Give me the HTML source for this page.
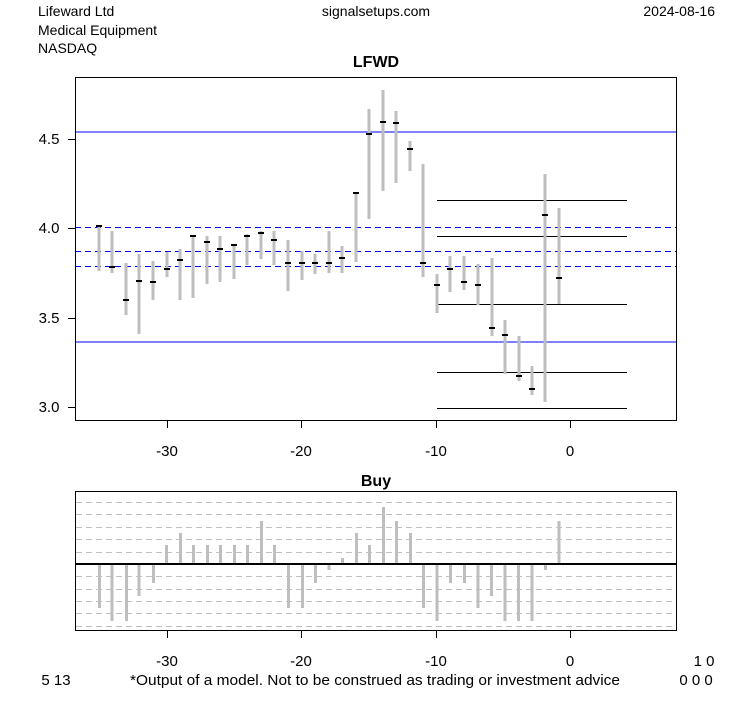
<!DOCTYPE html>
<html><head><meta charset="utf-8"><style>
html,body{margin:0;padding:0;background:#fff}
svg{display:block;font-family:"Liberation Sans",Arial,sans-serif}
</style></head><body>
<svg width="753" height="708" viewBox="0 0 753 708" xmlns="http://www.w3.org/2000/svg" shape-rendering="crispEdges">
<rect width="753" height="708" fill="#fff"/>
<g font-size="14" fill="#000">
<text x="38" y="16">Lifeward Ltd</text>
<text x="38" y="35">Medical Equipment</text>
<text x="38" y="53">NASDAQ</text>
<text x="376" y="16" text-anchor="middle">signalsetups.com</text>
<text x="715" y="16" text-anchor="end">2024-08-16</text>
<text x="376" y="67" text-anchor="middle" font-weight="bold" font-size="16">LFWD</text>
<text x="376" y="486" text-anchor="middle" font-weight="bold" font-size="16">Buy</text>
</g>
<g stroke="#0000ff" stroke-width="1">
<line x1="75" y1="132" x2="677" y2="132"/>
<line x1="75" y1="342" x2="677" y2="342"/>
<line x1="75" y1="227.5" x2="677" y2="227.5" stroke-dasharray="6,4"/>
<line x1="75" y1="251.5" x2="677" y2="251.5" stroke-dasharray="6,4"/>
<line x1="75" y1="266.5" x2="677" y2="266.5" stroke-dasharray="6,4"/>
</g>
<g stroke="#000" stroke-width="1">
<line x1="437" y1="200.5" x2="627" y2="200.5"/>
<line x1="437" y1="236.5" x2="627" y2="236.5"/>
<line x1="437" y1="304.5" x2="627" y2="304.5"/>
<line x1="437" y1="372.5" x2="627" y2="372.5"/>
<line x1="437" y1="408.5" x2="627" y2="408.5"/>
</g>
<g stroke="#bebebe" stroke-width="3">
<line x1="99" y1="225" x2="99" y2="271"/>
<line x1="112" y1="231" x2="112" y2="273"/>
<line x1="126" y1="263" x2="126" y2="315"/>
<line x1="139" y1="254" x2="139" y2="334"/>
<line x1="153" y1="261" x2="153" y2="300"/>
<line x1="167" y1="252" x2="167" y2="277"/>
<line x1="180" y1="249" x2="180" y2="300"/>
<line x1="193" y1="235" x2="193" y2="298"/>
<line x1="207" y1="236" x2="207" y2="284"/>
<line x1="220" y1="236" x2="220" y2="282"/>
<line x1="234" y1="244" x2="234" y2="279"/>
<line x1="247" y1="234" x2="247" y2="265"/>
<line x1="261" y1="231" x2="261" y2="259"/>
<line x1="274" y1="231" x2="274" y2="265"/>
<line x1="288" y1="240" x2="288" y2="291"/>
<line x1="302" y1="251" x2="302" y2="280"/>
<line x1="315" y1="254" x2="315" y2="274"/>
<line x1="329" y1="231" x2="329" y2="273"/>
<line x1="342" y1="246" x2="342" y2="273"/>
<line x1="356" y1="192" x2="356" y2="262"/>
<line x1="369" y1="109" x2="369" y2="219"/>
<line x1="383" y1="90" x2="383" y2="191"/>
<line x1="396" y1="111" x2="396" y2="183"/>
<line x1="410" y1="141" x2="410" y2="171"/>
<line x1="423" y1="164" x2="423" y2="277"/>
<line x1="437" y1="274" x2="437" y2="313"/>
<line x1="450" y1="256" x2="450" y2="292"/>
<line x1="464" y1="256" x2="464" y2="290"/>
<line x1="478" y1="264" x2="478" y2="305"/>
<line x1="492" y1="258" x2="492" y2="336"/>
<line x1="505" y1="320" x2="505" y2="374"/>
<line x1="519" y1="336" x2="519" y2="381"/>
<line x1="532" y1="366" x2="532" y2="395"/>
<line x1="545" y1="174" x2="545" y2="402"/>
<line x1="559" y1="208" x2="559" y2="304"/>
</g>
<g fill="#000">
<rect x="96" y="225" width="6" height="2"/>
<rect x="109" y="266" width="6" height="2"/>
<rect x="123" y="299" width="6" height="2"/>
<rect x="136" y="280" width="6" height="2"/>
<rect x="150" y="281" width="6" height="2"/>
<rect x="164" y="268" width="6" height="2"/>
<rect x="177" y="259" width="6" height="2"/>
<rect x="190" y="235" width="6" height="2"/>
<rect x="204" y="241" width="6" height="2"/>
<rect x="217" y="248" width="6" height="2"/>
<rect x="231" y="244" width="6" height="2"/>
<rect x="244" y="235" width="6" height="2"/>
<rect x="258" y="232" width="6" height="2"/>
<rect x="271" y="239" width="6" height="2"/>
<rect x="285" y="262" width="6" height="2"/>
<rect x="299" y="262" width="6" height="2"/>
<rect x="312" y="262" width="6" height="2"/>
<rect x="326" y="262" width="6" height="2"/>
<rect x="339" y="257" width="6" height="2"/>
<rect x="353" y="192" width="6" height="2"/>
<rect x="366" y="133" width="6" height="2"/>
<rect x="380" y="121" width="6" height="2"/>
<rect x="393" y="122" width="6" height="2"/>
<rect x="407" y="148" width="6" height="2"/>
<rect x="420" y="262" width="6" height="2"/>
<rect x="434" y="284" width="6" height="2"/>
<rect x="447" y="268" width="6" height="2"/>
<rect x="461" y="281" width="6" height="2"/>
<rect x="475" y="284" width="6" height="2"/>
<rect x="489" y="327" width="6" height="2"/>
<rect x="502" y="334" width="6" height="2"/>
<rect x="516" y="375" width="6" height="2"/>
<rect x="529" y="388" width="6" height="2"/>
<rect x="542" y="214" width="6" height="2"/>
<rect x="556" y="277" width="6" height="2"/>
</g>
<rect x="75.5" y="77.5" width="601" height="343" fill="none" stroke="#000"/>
<g stroke="#000">
<line x1="167.5" y1="421" x2="167.5" y2="428"/><line x1="301.5" y1="421" x2="301.5" y2="428"/>
<line x1="436.5" y1="421" x2="436.5" y2="428"/><line x1="570.5" y1="421" x2="570.5" y2="428"/>
<line x1="68" y1="139.5" x2="75" y2="139.5"/><line x1="68" y1="228.5" x2="75" y2="228.5"/>
<line x1="68" y1="318.5" x2="75" y2="318.5"/><line x1="68" y1="407.5" x2="75" y2="407.5"/>
</g>
<g font-size="15" text-anchor="middle">
<text x="167" y="456">-30</text><text x="301" y="456">-20</text><text x="436" y="456">-10</text><text x="570" y="456">0</text>
<text x="49" y="144">4.5</text><text x="49" y="233">4.0</text><text x="49" y="323">3.5</text><text x="49" y="412">3.0</text>
</g>
<g stroke="#c0c0c0" stroke-dasharray="6,4">
<line x1="76" y1="502.5" x2="676" y2="502.5"/><line x1="76" y1="514.5" x2="676" y2="514.5"/>
<line x1="76" y1="527.5" x2="676" y2="527.5"/><line x1="76" y1="539.5" x2="676" y2="539.5"/>
<line x1="76" y1="552.5" x2="676" y2="552.5"/><line x1="76" y1="576.5" x2="676" y2="576.5"/>
<line x1="76" y1="589.5" x2="676" y2="589.5"/><line x1="76" y1="601.5" x2="676" y2="601.5"/>
<line x1="76" y1="613.5" x2="676" y2="613.5"/><line x1="76" y1="626.5" x2="676" y2="626.5"/>
</g>
<g stroke="#bebebe" stroke-width="3">
<line x1="99.6" y1="564" x2="99.6" y2="608"/>
<line x1="112.2" y1="564" x2="112.2" y2="621"/>
<line x1="126.5" y1="564" x2="126.5" y2="621"/>
<line x1="139.1" y1="564" x2="139.1" y2="596"/>
<line x1="153.7" y1="564" x2="153.7" y2="583"/>
<line x1="166.4" y1="564" x2="166.4" y2="545"/>
<line x1="180.6" y1="564" x2="180.6" y2="533"/>
<line x1="193.7" y1="564" x2="193.7" y2="545"/>
<line x1="207.5" y1="564" x2="207.5" y2="545"/>
<line x1="220.5" y1="564" x2="220.5" y2="545"/>
<line x1="234.7" y1="564" x2="234.7" y2="545"/>
<line x1="247.4" y1="564" x2="247.4" y2="545"/>
<line x1="261.6" y1="564" x2="261.6" y2="521"/>
<line x1="274.7" y1="564" x2="274.7" y2="545"/>
<line x1="288.5" y1="564" x2="288.5" y2="608"/>
<line x1="302.3" y1="564" x2="302.3" y2="608"/>
<line x1="315.4" y1="564" x2="315.4" y2="583"/>
<line x1="329.2" y1="564" x2="329.2" y2="570"/>
<line x1="342.6" y1="564" x2="342.6" y2="558"/>
<line x1="356.4" y1="564" x2="356.4" y2="533"/>
<line x1="369.5" y1="564" x2="369.5" y2="545"/>
<line x1="383.3" y1="564" x2="383.3" y2="507"/>
<line x1="396.4" y1="564" x2="396.4" y2="521"/>
<line x1="410.6" y1="564" x2="410.6" y2="533"/>
<line x1="423.7" y1="564" x2="423.7" y2="608"/>
<line x1="437.1" y1="564" x2="437.1" y2="621"/>
<line x1="450.5" y1="564" x2="450.5" y2="583"/>
<line x1="464.3" y1="564" x2="464.3" y2="583"/>
<line x1="478.1" y1="564" x2="478.1" y2="608"/>
<line x1="491.5" y1="564" x2="491.5" y2="596"/>
<line x1="505" y1="564" x2="505" y2="621"/>
<line x1="518.4" y1="564" x2="518.4" y2="621"/>
<line x1="532.2" y1="564" x2="532.2" y2="621"/>
<line x1="545.3" y1="564" x2="545.3" y2="570"/>
<line x1="559.1" y1="564" x2="559.1" y2="521"/>
</g>
<line x1="76" y1="564" x2="676" y2="564" stroke="#000" stroke-width="2"/>
<rect x="75.5" y="491.5" width="601" height="139" fill="none" stroke="#000"/>
<g stroke="#000">
<line x1="167.5" y1="631" x2="167.5" y2="638"/><line x1="301.5" y1="631" x2="301.5" y2="638"/>
<line x1="436.5" y1="631" x2="436.5" y2="638"/><line x1="570.5" y1="631" x2="570.5" y2="638"/>
</g>
<g font-size="15" text-anchor="middle">
<text x="167" y="666">-30</text><text x="301" y="666">-20</text><text x="436" y="666">-10</text><text x="570" y="666">0</text>
<text x="704" y="666">1 0</text>
<text x="56" y="685">5 13</text>
<text x="130" y="685" text-anchor="start" textLength="490" lengthAdjust="spacingAndGlyphs">*Output of a model. Not to be construed as trading or investment advice</text>
<text x="696" y="685">0 0 0</text>
</g>
</svg>
</body></html>
